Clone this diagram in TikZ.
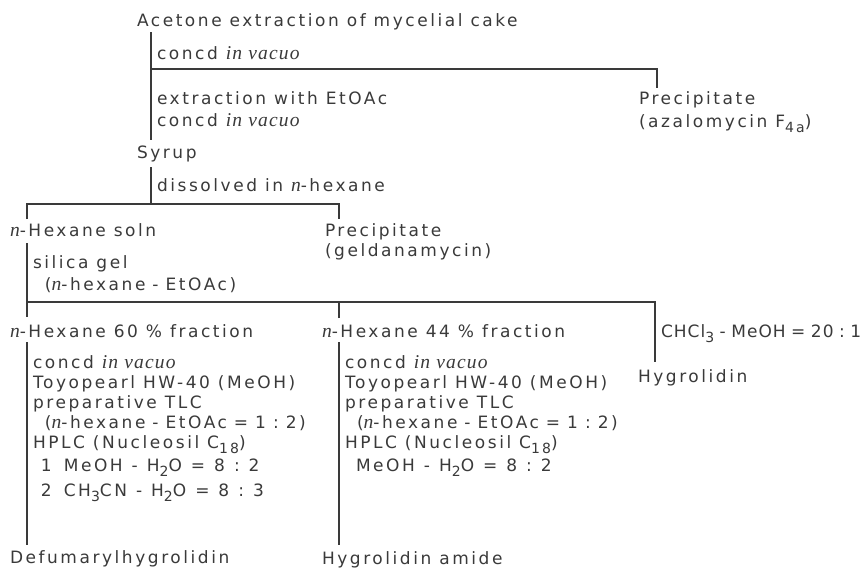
\documentclass[tikz,border=0pt]{standalone}
\usepackage{fontspec}
\setmainfont{DejaVu Sans}[LetterSpace=15]
\newfontfamily\ivfont{Liberation Serif}[Scale=1.15,LetterSpace=6]
\newfontfamily\tightfont{DejaVu Sans}[LetterSpace=6]
\newcommand{\iv}[1]{{\ivfont\itshape #1}}
\newcommand{\lowsub}[1]{\raisebox{-5pt}{\fontsize{14}{14}\selectfont #1}}
\newcommand{\tsp}[1][7pt]{\hspace{#1}}
\usetikzlibrary{positioning}
\definecolor{ink}{HTML}{3A3A3A}

\begin{document}
\begin{tikzpicture}
[x=1pt,y=-1pt,
 every node/.style={inner sep=0pt,outer sep=0pt,anchor=base west,text=ink,
                    align=left,font=\fontsize{17}{20}\selectfont},
 line width=1.5pt,draw=ink]
\useasboundingbox (0,0) rectangle (863,570);
\fill[white] (0,0) rectangle (863,570);
% texts (multi-line nodes sit on their last line)
\node (ace) at (137,26)  {Acetone extraction of mycelial cake};
\node (cv1) at (157,59)  {concd \iv{in vacuo}};
\node (ext) at (157,126) {extraction with EtOAc\\[2pt]concd \iv{in vacuo}};
\node (pra) at (639,127) {Precipitate\\[3pt](azalomycin F\lowsub{4a})};
\node (syr) at (137,158) {Syrup};
\node (dis) at (157,191) {dissolved in \iv{n}-hexane};
\node (hxs) at (10,236)  {\iv{n}-Hexane soln};
\node (prg) at (325,256) {Precipitate\\(geldanamycin)};
\node (sil) at (33,290)  {silica gel\\[2pt]\hspace*{12pt}(\iv{n}-hexane\tsp-\tsp EtOAc)};
\node (f60) at (10,337)  {\iv{n}-Hexane 60 \% fraction};
\node (f44) at (322,337) {\iv{n}-Hexane 44 \% fraction};
\node (chm) at (661,337) {\tightfont CHCl\lowsub{3}\tsp[5.5pt]-\tsp[5.5pt]MeOH\tsp[5.5pt]=\tsp[5.5pt]20\tsp[5.5pt]:\tsp[5.5pt]1};
\node (hyg) at (638,382) {Hygrolidin};
\node (s60) at (33,496)  {concd \iv{in vacuo}\\Toyopearl HW-40 (MeOH)\\preparative TLC\\
  \hspace*{12pt}(\iv{n}-hexane\tsp-\tsp EtOAc\tsp=\tsp 1\tsp:\tsp 2)\\HPLC (Nucleosil C\lowsub{18})\\[3pt]
  \hspace*{8pt}1\tsp[12pt]MeOH\tsp[9pt]-\tsp[9pt]H\lowsub{2}O\tsp[9pt]=\tsp[9pt]8\tsp[9pt]:\tsp[9pt]2\\[5pt]
  \hspace*{8pt}2\tsp[12pt]CH\lowsub{3}CN\tsp[9pt]-\tsp[9pt]H\lowsub{2}O\tsp[9pt]=\tsp[9pt]8\tsp[9pt]:\tsp[9pt]3};
\node (s44) at (345,471) {concd \iv{in vacuo}\\Toyopearl HW-40 (MeOH)\\preparative TLC\\
  \hspace*{12pt}(\iv{n}-hexane\tsp-\tsp EtOAc\tsp=\tsp 1\tsp:\tsp 2)\\HPLC (Nucleosil C\lowsub{18})\\[3pt]
  \hspace*{11pt}MeOH\tsp[9pt]-\tsp[9pt]H\lowsub{2}O\tsp[9pt]=\tsp[9pt]8\tsp[9pt]:\tsp[9pt]2};
\node (dfh) at (10,563)  {Defumarylhygrolidin};
\node (hya) at (322,564) {Hygrolidin amide};
% branch points
\coordinate (t1) at (151,32);  \coordinate (b1) at (151,140);
\coordinate (j1) at (151,69);  \coordinate (p1) at (657,88);
\coordinate (t2) at (151,167); \coordinate (j2) at (151,204);
\coordinate (l2) at (27,219);  \coordinate (r2) at (339,219);
\coordinate (t3) at (27,243);  \coordinate (j3) at (27,302);
\coordinate (l3) at (27,317);  \coordinate (m3) at (339,318);
\coordinate (r3) at (655,362);
\coordinate (t4) at (27,342);  \coordinate (b4) at (27,545);
\coordinate (t5) at (339,342); \coordinate (b5) at (339,545);
\draw (t1) -- (b1);
\draw (j1) -| (p1);
\draw (t2) -- (j2);
\draw (l2) |- (j2) -| (r2);
\draw (t3) -- (l3);
\draw (j3) -| (r3);
\draw (m3) -- (m3 |- j3);
\draw (t4) -- (b4);
\draw (t5) -- (b5);
\end{tikzpicture}
\end{document}
